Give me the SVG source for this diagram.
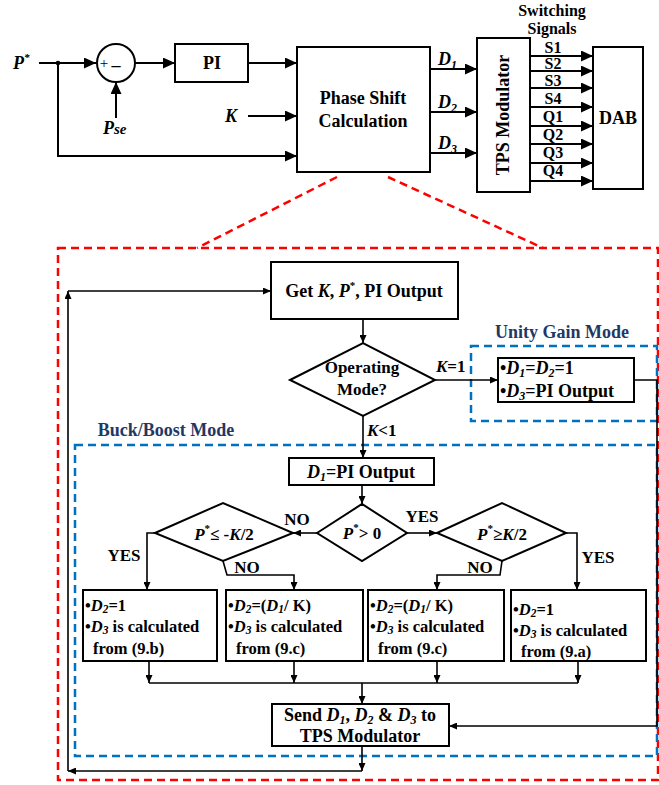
<svg xmlns="http://www.w3.org/2000/svg" width="659" height="785" viewBox="0 0 659 785">
<style>
text{font-family:"Liberation Serif","Times New Roman",serif;font-weight:bold;fill:#000}
.t18{font-size:18px}
.t17{font-size:17px}
.t16{font-size:16px}
.t15{font-size:16.5px}
.it{font-style:italic}
.box{fill:#fff;stroke:#000;stroke-width:2}
.ln{fill:none;stroke:#000;stroke-width:1.6}
.lnb{fill:none;stroke:#000;stroke-width:2}
.red{fill:none;stroke:#ff0000;stroke-width:2.5;stroke-dasharray:8 5}
.blue{fill:none;stroke:#0070c0;stroke-width:2.5;stroke-dasharray:8 5}
.navy{fill:#1f3864}
</style>
<defs>
<marker id="big" markerUnits="userSpaceOnUse" markerWidth="12" markerHeight="11" refX="12" refY="5.5" orient="auto"><path d="M0,0 L12,5.5 L0,11 z" fill="#000"/></marker>
<marker id="sm" markerUnits="userSpaceOnUse" markerWidth="8" markerHeight="7" refX="8" refY="3.5" orient="auto"><path d="M0,0 L8,3.5 L0,7 z" fill="#000"/></marker>
</defs>

<!-- red and blue dashed frames -->
<g id="frames">
<path class="red" d="M337,177 L197,248"/>
<path class="red" d="M388,177 L543,248"/>
<rect class="red" x="58" y="248" width="600" height="532"/>
<rect class="blue" x="471" y="346" width="186" height="75"/>
<rect class="blue" x="75" y="445" width="582" height="311"/>
<text class="t18 navy" x="562" y="338" text-anchor="middle">Unity Gain Mode</text>
<text class="t18 navy" x="166" y="436" text-anchor="middle">Buck/Boost Mode</text>
</g>

<!-- connectors -->
<g id="connectors">
<path class="lnb" d="M39,63 L96,63" marker-end="url(#big)"/>
<circle cx="58" cy="63" r="2.3" fill="#000"/>
<path class="lnb" d="M135,63 L175,63" marker-end="url(#big)"/>
<path class="lnb" d="M116,118 L116,82" marker-end="url(#big)"/>
<path class="lnb" d="M248,63 L297,63" marker-end="url(#big)"/>
<path class="lnb" d="M248,116 L297,116" marker-end="url(#big)"/>
<path class="lnb" d="M58,63 L58,156 L297,156" marker-end="url(#big)"/>
<path class="lnb" d="M430,69 L477,69" marker-end="url(#big)"/>
<path class="lnb" d="M430,112 L477,112" marker-end="url(#big)"/>
<path class="lnb" d="M430,153 L477,153" marker-end="url(#big)"/>
<path class="lnb" d="M530,56 L593,56" marker-end="url(#big)"/>
<path class="lnb" d="M530,71 L593,71" marker-end="url(#big)"/>
<path class="lnb" d="M530,88 L593,88" marker-end="url(#big)"/>
<path class="lnb" d="M530,107 L593,107" marker-end="url(#big)"/>
<path class="lnb" d="M530,126 L593,126" marker-end="url(#big)"/>
<path class="lnb" d="M530,144 L593,144" marker-end="url(#big)"/>
<path class="lnb" d="M530,163 L593,163" marker-end="url(#big)"/>
<path class="lnb" d="M530,181 L593,181" marker-end="url(#big)"/>

<path class="ln" d="M68,771 L68,291" marker-end="url(#sm)"/>
<path class="ln" d="M68,291 L271,291" marker-end="url(#sm)"/>
<path class="ln" d="M363,319 L363,343" marker-end="url(#sm)"/>
<path class="ln" d="M435,380 L498,380" marker-end="url(#sm)"/>
<path class="ln" d="M634,380 L657,380 L657,726 L449,726" marker-end="url(#sm)"/>
<path class="ln" d="M363,416 L363,458" marker-end="url(#sm)"/>
<path class="ln" d="M362,485 L362,504" marker-end="url(#sm)"/>
<path class="ln" d="M317,533 L293,533" marker-end="url(#sm)"/>
<path class="ln" d="M407,533 L437,533" marker-end="url(#sm)"/>
<path class="ln" d="M155,533 L147,533 L147,590" marker-end="url(#sm)"/>
<path class="ln" d="M223,561 L227,575 L294,575 L294,590" marker-end="url(#sm)"/>
<path class="ln" d="M502,561 L500,575 L437,575 L437,590" marker-end="url(#sm)"/>
<path class="ln" d="M566,533 L577,533 L577,590" marker-end="url(#sm)"/>
<path class="ln" d="M149,661 L149,683" marker-end="url(#sm)"/>
<path class="ln" d="M294,661 L294,683" marker-end="url(#sm)"/>
<path class="ln" d="M437,661 L437,683" marker-end="url(#sm)"/>
<path class="ln" d="M578,661 L578,683" marker-end="url(#sm)"/>
<path class="ln" d="M149,683 L578,683"/>
<path class="ln" d="M362,683 L362,704" marker-end="url(#sm)"/>
<path class="ln" d="M362,746 L362,771" marker-end="url(#sm)"/>
<path class="ln" d="M362,771 L68,771" marker-end="url(#sm)"/>
</g>

<!-- connector labels -->
<g id="labels">
<text class="t18 it" x="13" y="69">P<tspan font-size="11" dy="-8">*</tspan></text>
<text class="it" font-size="18" x="103" y="134">P<tspan font-size="15">se</tspan></text>
<text class="t18 it" x="225" y="122">K</text>
<text class="t18 it" x="438" y="65">D<tspan font-size="12" dy="4">1</tspan></text>
<text class="t18 it" x="438" y="108">D<tspan font-size="12" dy="4">2</tspan></text>
<text class="t18 it" x="438" y="149">D<tspan font-size="12" dy="4">3</tspan></text>
<text class="t16" x="552" y="16" text-anchor="middle">Switching</text>
<text class="t16" x="552" y="34" text-anchor="middle">Signals</text>
<g class="t16" text-anchor="middle">
<text x="553" y="53">S1</text>
<text x="553" y="69">S2</text>
<text x="553" y="86">S3</text>
<text x="553" y="104">S4</text>
<text x="553" y="122">Q1</text>
<text x="553" y="140">Q2</text>
<text x="553" y="158">Q3</text>
<text x="553" y="176">Q4</text>
</g>
<text class="t17" x="436" y="372"><tspan class="it">K</tspan>=1</text>
<text class="t17" x="367" y="436"><tspan class="it">K</tspan>&lt;1</text>
<text class="t17" x="297" y="525" text-anchor="middle">NO</text>
<text class="t17" x="422" y="522" text-anchor="middle">YES</text>
<text class="t17" x="124" y="561" text-anchor="middle">YES</text>
<text class="t17" x="598" y="563" text-anchor="middle">YES</text>
<text class="t17" x="247" y="573" text-anchor="middle">NO</text>
<text class="t17" x="480" y="573" text-anchor="middle">NO</text>
</g>

<!-- top block diagram nodes -->
<g id="sum">
<circle cx="116" cy="63" r="19" fill="#fff" stroke="#000" stroke-width="2"/>
<text font-size="15" x="104" y="68" text-anchor="middle" style="font-weight:normal">+</text>
<text font-size="18" x="116" y="71" text-anchor="middle">‒</text>
</g>
<g id="pi">
<rect class="box" x="175" y="44" width="73" height="38"/>
<text class="t18" x="212" y="69" text-anchor="middle">PI</text>
</g>
<g id="phase">
<rect class="box" x="297" y="47" width="133" height="125"/>
<text class="t18" x="363" y="104" text-anchor="middle">Phase Shift</text>
<text class="t18" x="363" y="127" text-anchor="middle">Calculation</text>
</g>
<g id="tps">
<rect class="box" x="477" y="38" width="53" height="154"/>
<text class="t18" x="0" y="0" text-anchor="middle" transform="translate(509,115) rotate(-90)">TPS Modulator</text>
</g>
<g id="dab">
<rect class="box" x="593" y="47" width="50" height="142"/>
<text class="t18" x="618" y="124" text-anchor="middle">DAB</text>
</g>

<!-- flowchart nodes -->
<g id="get">
<rect class="box" x="271" y="262" width="187" height="57"/>
<text class="t18" x="364" y="297" text-anchor="middle">Get <tspan class="it">K</tspan>, <tspan class="it">P</tspan><tspan font-size="11" dy="-8">*</tspan><tspan dy="8">, PI Output</tspan></text>
</g>
<g id="opmode">
<polygon points="290,380 363,343 435,380 363,416" fill="#fff" stroke="#000" stroke-width="2"/>
<text class="t17" x="362" y="373" text-anchor="middle">Operating</text>
<text class="t17" x="362" y="395" text-anchor="middle">Mode?</text>
</g>
<g id="unity">
<rect class="box" x="498" y="358" width="136" height="44"/>
<text class="t18" x="500" y="374">•<tspan class="it">D</tspan><tspan class="it" font-size="12" dy="3">1</tspan><tspan dy="-3">=</tspan><tspan class="it">D</tspan><tspan class="it" font-size="12" dy="3">2</tspan><tspan dy="-3">=1</tspan></text>
<text class="t18" x="500" y="397">•<tspan class="it">D</tspan><tspan class="it" font-size="12" dy="3">3</tspan><tspan dy="-3">=PI Output</tspan></text>
</g>
<g id="d1box">
<rect class="box" x="289" y="458" width="145" height="27"/>
<text class="t18" x="361" y="478" text-anchor="middle"><tspan class="it">D</tspan><tspan class="it" font-size="12" dy="3">1</tspan><tspan dy="-3">=PI Output</tspan></text>
</g>
<g id="pgt0">
<polygon points="317,533 362,504 407,533 362,561" fill="#fff" stroke="#000" stroke-width="2"/>
<text class="t17" x="362" y="539" text-anchor="middle"><tspan class="it">P</tspan><tspan font-size="11" dy="-8">*</tspan><tspan dy="8">&gt; 0</tspan></text>
</g>
<g id="pneg">
<polygon points="155,533 223,503 293,533 223,561" fill="#fff" stroke="#000" stroke-width="2"/>
<text class="t17" x="224" y="540" text-anchor="middle"><tspan class="it">P</tspan><tspan font-size="11" dy="-8">*</tspan><tspan dy="8">≤ -</tspan><tspan class="it">K</tspan>/2</text>
</g>
<g id="ppos">
<polygon points="437,533 502,503 566,533 502,561" fill="#fff" stroke="#000" stroke-width="2"/>
<text class="t17" x="502" y="540" text-anchor="middle"><tspan class="it">P</tspan><tspan font-size="11" dy="-8">*</tspan><tspan dy="8">≥</tspan><tspan class="it">K</tspan>/2</text>
</g>
<g id="b1">
<rect class="box" x="83" y="590" width="134" height="71"/>
<text class="t15" x="85" y="611">•<tspan class="it">D</tspan><tspan class="it" font-size="11.5" dy="2">2</tspan><tspan dy="-2">=1</tspan></text>
<text class="t15" x="85" y="632">•<tspan class="it">D</tspan><tspan class="it" font-size="11.5" dy="2">3</tspan><tspan dy="-2"> is calculated</tspan></text>
<text class="t15" x="93" y="654">from (9.b)</text>
</g>
<g id="b2">
<rect class="box" x="226" y="590" width="137" height="71"/>
<text class="t15" x="228" y="611">•<tspan class="it">D</tspan><tspan class="it" font-size="11.5" dy="2">2</tspan><tspan dy="-2">=(</tspan><tspan class="it">D</tspan><tspan class="it" font-size="11.5" dy="2">1</tspan><tspan dy="-2">/ K)</tspan></text>
<text class="t15" x="228" y="632">•<tspan class="it">D</tspan><tspan class="it" font-size="11.5" dy="2">3</tspan><tspan dy="-2"> is calculated</tspan></text>
<text class="t15" x="236" y="654">from (9.c)</text>
</g>
<g id="b3">
<rect class="box" x="368" y="590" width="136" height="71"/>
<text class="t15" x="370" y="611">•<tspan class="it">D</tspan><tspan class="it" font-size="11.5" dy="2">2</tspan><tspan dy="-2">=(</tspan><tspan class="it">D</tspan><tspan class="it" font-size="11.5" dy="2">1</tspan><tspan dy="-2">/ K)</tspan></text>
<text class="t15" x="370" y="632">•<tspan class="it">D</tspan><tspan class="it" font-size="11.5" dy="2">3</tspan><tspan dy="-2"> is calculated</tspan></text>
<text class="t15" x="378" y="654">from (9.c)</text>
</g>
<g id="b4">
<rect class="box" x="511" y="590" width="135" height="71"/>
<text class="t15" x="513" y="615">•<tspan class="it">D</tspan><tspan class="it" font-size="11.5" dy="2">2</tspan><tspan dy="-2">=1</tspan></text>
<text class="t15" x="513" y="636">•<tspan class="it">D</tspan><tspan class="it" font-size="11.5" dy="2">3</tspan><tspan dy="-2"> is calculated</tspan></text>
<text class="t15" x="521" y="657">from (9.a)</text>
</g>
<g id="send">
<rect class="box" x="272" y="704" width="177" height="42"/>
<text class="t18" x="360" y="721" text-anchor="middle">Send <tspan class="it">D</tspan><tspan class="it" font-size="12" dy="3">1</tspan><tspan dy="-3">, </tspan><tspan class="it">D</tspan><tspan class="it" font-size="12" dy="3">2</tspan><tspan dy="-3"> &amp; </tspan><tspan class="it">D</tspan><tspan class="it" font-size="12" dy="3">3</tspan><tspan dy="-3"> to</tspan></text>
<text class="t18" x="360" y="742" text-anchor="middle">TPS Modulator</text>
</g>
</svg>
